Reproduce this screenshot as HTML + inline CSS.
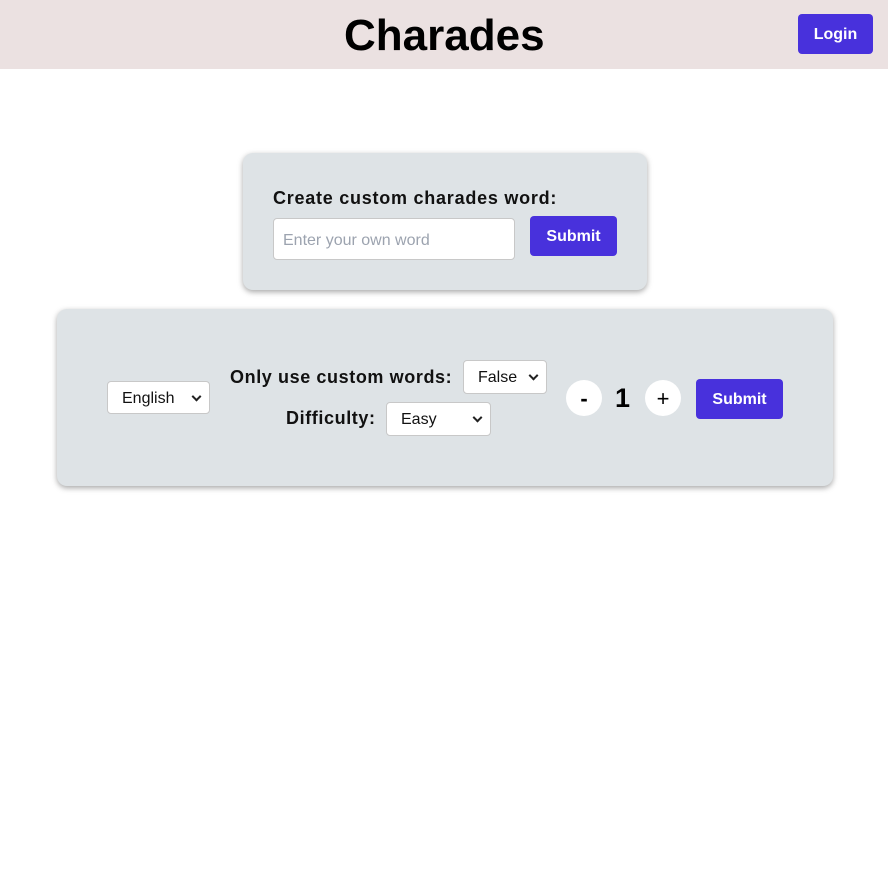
<!DOCTYPE html>
<html><head><style>
body{margin:0;width:888px;height:869px;background:#fff;font-family:"Liberation Sans",sans-serif;position:relative;overflow:hidden}
div,span{position:absolute;box-sizing:border-box}
.hdr{left:0;top:0;width:888px;height:69px;background:#ebe1e1}
.btn{background:#4831dc;color:#fff;font-weight:bold;border-radius:4px;display:flex;align-items:center;justify-content:center;font-size:16px;padding-top:2px}
.card{background:#dee3e6;border-radius:10px;box-shadow:0 2px 6px rgba(0,0,0,.35)}
.sel{background:#fff;border:1px solid #c8c8c8;border-radius:4px;font-size:16px;color:#111;display:flex;align-items:center;padding-left:14px;padding-top:2px}
.sel:after{content:"";position:absolute;right:9px;top:50%;width:5px;height:5px;border-right:2px solid #222;border-bottom:2px solid #222;transform:translateY(-70%) rotate(45deg)}
.lbl{font-size:18px;font-weight:bold;color:#111;white-space:nowrap;letter-spacing:0.6px}
.circ{width:36px;height:36px;border-radius:50%;background:#fff;font-size:22px;display:flex;align-items:center;justify-content:center;color:#000;padding-top:2px}
</style></head><body>
<div class="hdr"></div>
<div style="left:344px;top:10px;font-size:44px;font-weight:bold;color:#000;line-height:52px">Charades</div>
<div class="btn" style="left:798px;top:14px;width:75px;height:40px">Login</div>

<div class="card" style="left:243px;top:153px;width:404px;height:137px"></div>
<div class="lbl" style="left:273px;top:188px;letter-spacing:0.75px">Create custom charades word:</div>
<div style="left:273px;top:218px;width:242px;height:42px;background:#fff;border:1px solid #c8c8c8;border-radius:4px;color:#9ca3af;font-size:16px;padding:13px 0 0 9px">Enter your own word</div>
<div class="btn" style="left:530px;top:216px;width:87px;height:40px">Submit</div>

<div class="card" style="left:57px;top:309px;width:776px;height:177px"></div>
<div class="sel" style="left:107px;top:381px;width:103px;height:33px">English</div>
<div class="lbl" style="left:230px;top:367px">Only use custom words:</div>
<div class="sel" style="left:463px;top:360px;width:84px;height:34px">False</div>
<div class="lbl" style="left:286px;top:408px">Difficulty:</div>
<div class="sel" style="left:386px;top:402px;width:105px;height:34px">Easy</div>
<div class="circ" style="left:566px;top:380px;font-weight:bold">-</div>
<div style="left:615px;top:383px;font-size:27px;font-weight:bold;color:#000">1</div>
<div class="circ" style="left:645px;top:380px">+</div>
<div class="btn" style="left:696px;top:379px;width:87px;height:40px">Submit</div>
</body></html>
